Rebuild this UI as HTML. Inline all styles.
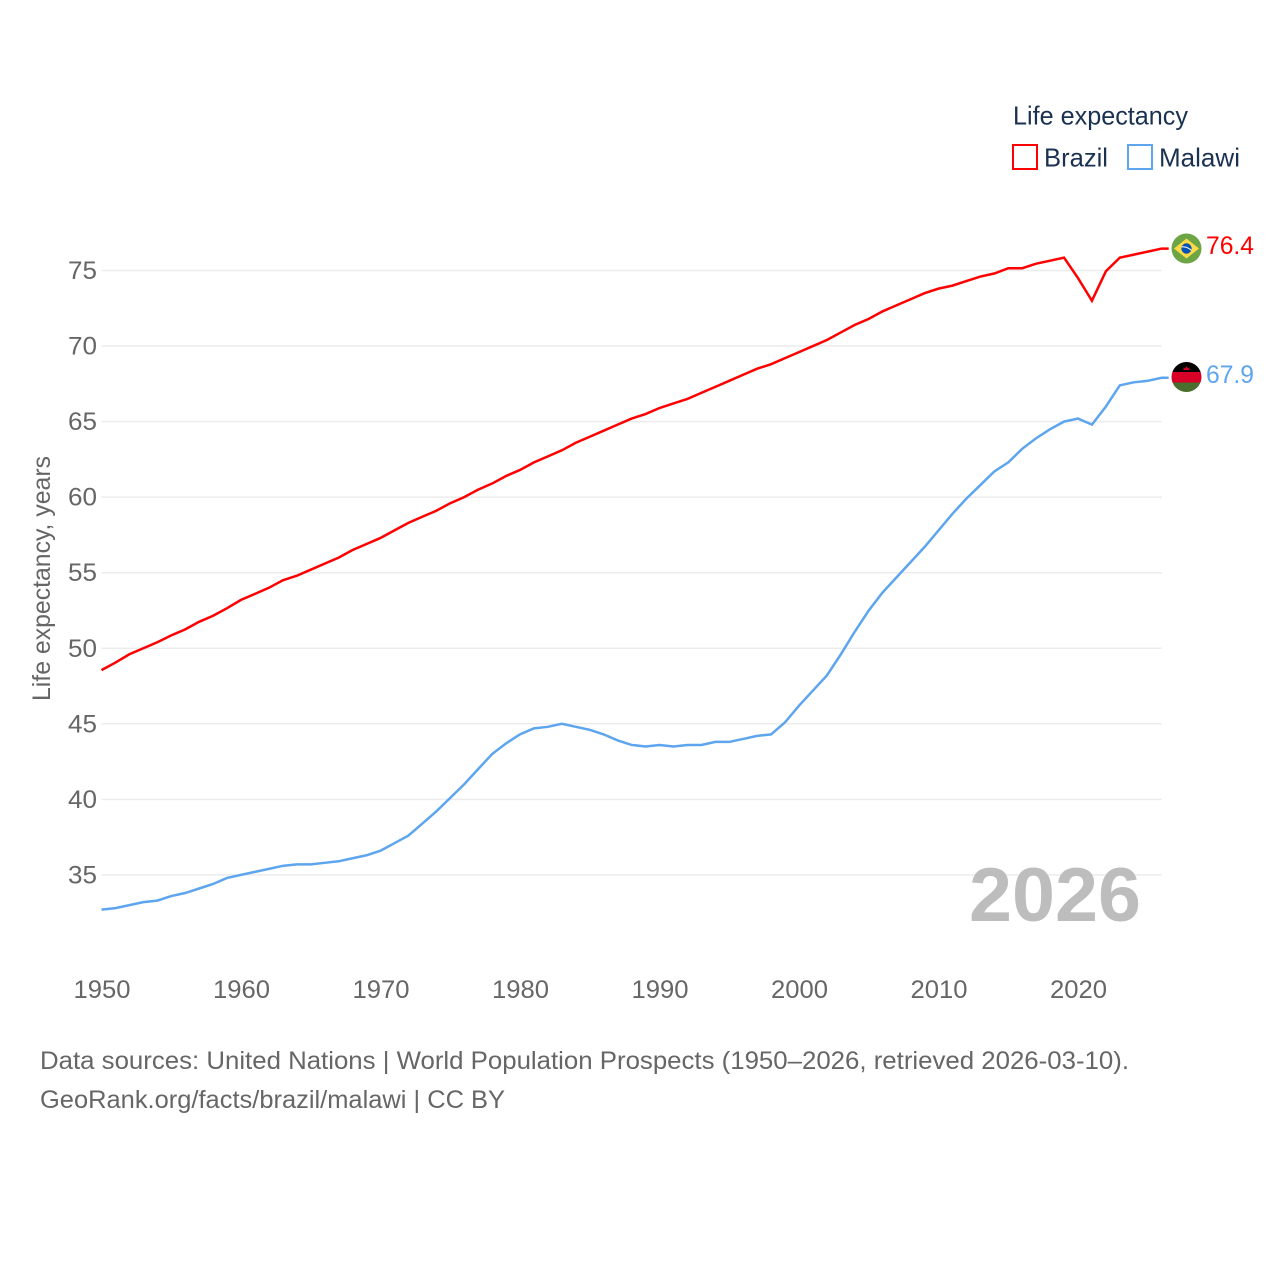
<!DOCTYPE html>
<html lang="en">
<head>
<meta charset="utf-8">
<title>Life expectancy: Brazil and Malawi</title>
<style>
html,body{margin:0;padding:0;background:#fff;}
svg{display:block;}
text{font-family:"Liberation Sans",sans-serif;}
</style>
</head>
<body>
<svg id="chart" xmlns="http://www.w3.org/2000/svg" width="1280" height="1280" viewBox="0 0 1280 1280">
  <rect width="1280" height="1280" fill="#fff"/>
  <g id="grid"></g>
  <g id="yticks"></g>
  <g id="xticks"></g>
  <text transform="translate(50,701) rotate(-90)" font-size="25" fill="#666" textLength="245" lengthAdjust="spacingAndGlyphs">Life expectancy, years</text>
  <text x="969" y="921" font-size="76" font-weight="bold" fill="#bdbdbd" textLength="172" lengthAdjust="spacingAndGlyphs">2026</text>
  <g id="series"></g>

  <g>
    <circle cx="1186.5" cy="248.5" r="15" fill="#6da544"/>
    <polygon points="1186.5,238.5 1199,248.5 1186.5,258.5 1174,248.5" fill="#ffda44"/>
    <circle cx="1186.5" cy="248.5" r="5.2" fill="#0052b4"/>
    <path d="M1181.5 247 Q1186.5 246 1191.5 250.5" fill="none" stroke="#f0f0f0" stroke-width="1.1"/>
  </g>
  <g>
    <clipPath id="mw"><circle cx="1186.5" cy="377" r="15"/></clipPath>
    <g clip-path="url(#mw)">
      <rect x="1171" y="362" width="31" height="10" fill="#000"/>
      <rect x="1171" y="372" width="31" height="10.5" fill="#d80027"/>
      <rect x="1171" y="382.5" width="31" height="9.5" fill="#496e2d"/>
    </g>
    <path d="M1183.5 370 L1183.5 367.5 L1185 368.5 L1186.5 366 L1188 368.5 L1189.5 367.5 L1189.5 370 Z" fill="#d80027"/>
  </g>

  <text x="1206" y="254" font-size="25" fill="#ff0000" textLength="48" lengthAdjust="spacingAndGlyphs">76.4</text>
  <text x="1206" y="383" font-size="25" fill="#5da5ee" textLength="48" lengthAdjust="spacingAndGlyphs">67.9</text>

  <g>
    <text x="1013" y="124.5" font-size="26" fill="#1a3152" textLength="175" lengthAdjust="spacingAndGlyphs">Life expectancy</text>
    <g>
      <rect x="1013" y="145" width="24" height="24" fill="none" stroke="#ff0000" stroke-width="2"/>
      <text x="1044" y="166.5" font-size="26" fill="#1a3152" textLength="64" lengthAdjust="spacingAndGlyphs">Brazil</text>
    </g>
    <g>
      <rect x="1128" y="145" width="24" height="24" fill="none" stroke="#5da5ee" stroke-width="2"/>
      <text x="1159" y="166.5" font-size="26" fill="#1a3152" textLength="81" lengthAdjust="spacingAndGlyphs">Malawi</text>
    </g>
  </g>

  <text x="40" y="1069" font-size="25" fill="#666" textLength="1089" lengthAdjust="spacingAndGlyphs">Data sources: United Nations | World Population Prospects (1950–2026, retrieved 2026-03-10).</text>
  <text x="40" y="1108" font-size="25" fill="#666" textLength="465" lengthAdjust="spacingAndGlyphs">GeoRank.org/facts/brazil/malawi | CC BY</text>
</svg>
<script>
const startYear = 1950;
const yTickValues = [35, 40, 45, 50, 55, 60, 65, 70, 75];
const xTickValues = [1950, 1960, 1970, 1980, 1990, 2000, 2010, 2020];
const brazilValues = [
  48.55, 49.05, 49.6, 50.0, 50.4, 50.85, 51.25, 51.75, 52.15, 52.65,
  53.2, 53.6, 54.0, 54.5, 54.8, 55.2, 55.6, 56.0, 56.5, 56.9,
  57.3, 57.8, 58.3, 58.7, 59.1, 59.6, 60.0, 60.5, 60.9, 61.4,
  61.8, 62.3, 62.7, 63.1, 63.6, 64.0, 64.4, 64.8, 65.2, 65.5,
  65.9, 66.2, 66.5, 66.9, 67.3, 67.7, 68.1, 68.5, 68.8, 69.2,
  69.6, 70.0, 70.4, 70.9, 71.4, 71.8, 72.3, 72.7, 73.1, 73.5,
  73.8, 74.0, 74.3, 74.6, 74.8, 75.15, 75.15, 75.45, 75.65, 75.85,
  74.5, 73.0, 74.95, 75.85, 76.05, 76.25, 76.45
];
const malawiValues = [
  32.7, 32.8, 33.0, 33.2, 33.3, 33.6, 33.8, 34.1, 34.4, 34.8,
  35.0, 35.2, 35.4, 35.6, 35.7, 35.7, 35.8, 35.9, 36.1, 36.3,
  36.6, 37.1, 37.6, 38.4, 39.2, 40.1, 41.0, 42.0, 43.0, 43.7,
  44.3, 44.7, 44.8, 45.0, 44.8, 44.6, 44.3, 43.9, 43.6, 43.5,
  43.6, 43.5, 43.6, 43.6, 43.8, 43.8, 44.0, 44.2, 44.3, 45.1,
  46.2, 47.2, 48.2, 49.6, 51.1, 52.5, 53.7, 54.7, 55.7, 56.7,
  57.8, 58.9, 59.9, 60.8, 61.7, 62.3, 63.2, 63.9, 64.5, 65.0,
  65.2, 64.8, 66.0, 67.4, 67.6, 67.7, 67.9
];

const NS = 'http://www.w3.org/2000/svg';
function xScale(year) { return 101.5 + (year - 1950) * 13.95; }
function yScale(value) { return 270.5 + (75 - value) * 15.11; }

const gridGroup = document.getElementById('grid');
const yTickGroup = document.getElementById('yticks');
const xTickGroup = document.getElementById('xticks');
const seriesGroup = document.getElementById('series');

yTickValues.forEach(function (v) {
  const line = document.createElementNS(NS, 'line');
  
  
  line.setAttribute('x1', xScale(1950));
  line.setAttribute('x2', xScale(2026));
  line.setAttribute('y1', yScale(v));
  line.setAttribute('y2', yScale(v));
  line.setAttribute('stroke', '#ececec');
  line.setAttribute('stroke-width', '1.5');
  gridGroup.appendChild(line);

  const label = document.createElementNS(NS, 'text');
  
  
  label.setAttribute('x', 68);
  label.setAttribute('y', yScale(v) + 8.5);
  label.setAttribute('font-size', '25');
  label.setAttribute('fill', '#666');
  label.setAttribute('textLength', '29');
  label.setAttribute('lengthAdjust', 'spacingAndGlyphs');
  label.textContent = v;
  yTickGroup.appendChild(label);
});

xTickValues.forEach(function (year) {
  const label = document.createElementNS(NS, 'text');
  
  
  label.setAttribute('x', xScale(year) - 28);
  label.setAttribute('y', 998);
  label.setAttribute('font-size', '25');
  label.setAttribute('fill', '#666');
  label.setAttribute('textLength', '57');
  label.setAttribute('lengthAdjust', 'spacingAndGlyphs');
  label.textContent = year;
  xTickGroup.appendChild(label);
});

function linePath(values) {
  let d = values.map(function (v, i) {
    return (i ? 'L' : 'M') + xScale(startYear + i).toFixed(2) + ' ' + yScale(v).toFixed(2);
  }).join(' ');
  d += ' H' + (xScale(startYear + values.length - 1) + 7).toFixed(2);
  return d;
}

const brazilLine = document.createElementNS(NS, 'path');


brazilLine.setAttribute('d', linePath(brazilValues));
brazilLine.setAttribute('fill', 'none');
brazilLine.setAttribute('stroke', '#ff0000');
brazilLine.setAttribute('stroke-width', '2.5');
seriesGroup.appendChild(brazilLine);

const malawiLine = document.createElementNS(NS, 'path');


malawiLine.setAttribute('d', linePath(malawiValues));
malawiLine.setAttribute('fill', 'none');
malawiLine.setAttribute('stroke', '#5da5ee');
malawiLine.setAttribute('stroke-width', '2.5');
seriesGroup.appendChild(malawiLine);
</script>
</body>
</html>
